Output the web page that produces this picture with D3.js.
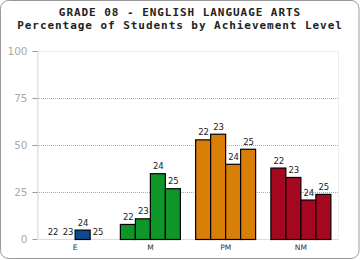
<!DOCTYPE html>
<html><head><meta charset="utf-8">
<script src="https://cdn.jsdelivr.net/npm/d3@7"></script>
<style>body{margin:0;background:#fff}svg{display:block}</style>
</head><body>
<script>
const categories = ["E", "M", "PM", "NM"];
const years = ["22", "23", "24", "25"];
const values = {
  E:  [0, 0, 5, 0],
  M:  [8, 11, 35, 27],
  PM: [53, 56, 40, 48],
  NM: [38, 33, 21, 24]
};
const colors = ["#0f4a90", "#0f9629", "#d97f08", "#a50820"];
const yTicks = [0, 25, 50, 75, 100];
const titleLines = ["GRADE 08 - ENGLISH LANGUAGE ARTS", "Percentage of Students by Achievement Level"];

(function () {
const W = 360, H = 260;
const svg = d3.select("body").append("svg").attr("width", W).attr("height", H);
svg.append("rect").attr("x", 0.5).attr("y", 0.5).attr("width", W - 1.5).attr("height", H - 2)
  .attr("rx", 8).attr("fill", "#fff").attr("stroke", "#9a9a9a").attr("stroke-width", 1);

svg.selectAll("text.title").data(titleLines).enter().append("text")
  .attr("x", 180).attr("y", (d, i) => 16 + i * 13)
  .attr("text-anchor", "middle")
  .attr("font-family", "DejaVu Sans Mono").attr("font-weight", "bold").attr("font-size", "11px")
  .attr("letter-spacing", "0.95px")
  .attr("fill", "#222").text(d => d);

const pl = 37, pr = 338, pt = 51, pb = 239;
const x = d3.scaleBand().domain(categories).range([pl, pr]).paddingInner(0).paddingOuter(0);
const y = d3.scaleLinear().domain([0, 100]).range([pb, pt]);

svg.append("rect").attr("x", pl + 0.5).attr("y", pt + 0.5).attr("width", pr - pl).attr("height", pb - pt)
  .attr("fill", "none").attr("stroke", "#eeeeee");

svg.selectAll("line.grid").data(yTicks.filter(t => t > 0 && t < 100)).enter().append("line")
  .attr("x1", pl).attr("x2", pr).attr("y1", d => Math.round(y(d)) + 0.5).attr("y2", d => Math.round(y(d)) + 0.5)
  .attr("stroke", "#aaa").attr("stroke-dasharray", "1,1");

const yAxis = svg.append("g").attr("transform", `translate(${pl + 0.5},0)`)
  .call(d3.axisLeft(y).tickValues(yTicks).tickSize(5).tickPadding(5));
yAxis.select(".domain").attr("stroke", "#ddd");
yAxis.selectAll(".tick line").attr("stroke", "#999");
yAxis.selectAll(".tick text").attr("fill", "#aaa").attr("font-family", "DejaVu Sans").attr("font-size", "10.5px");

svg.append("line").attr("x1", pl).attr("x2", pr).attr("y1", pb + 0.5).attr("y2", pb + 0.5).attr("stroke", "#ddd");

const inner = d3.scaleBand().domain(years).range([0, 60]);
const groups = svg.selectAll("g.grp").data(categories).enter().append("g")
  .attr("transform", d => `translate(${x(d) + (x.bandwidth() - 60) / 2},0)`);

groups.each(function(cat, ci) {
  const g = d3.select(this);
  const data = years.map((yr, i) => ({yr, v: values[cat][i]}));
  g.selectAll("rect").data(data.filter(d => d.v > 0)).enter().append("rect")
    .attr("x", d => inner(d.yr) + 0.5).attr("width", inner.bandwidth())
    .attr("y", d => y(d.v) + 0.5).attr("height", d => pb - y(d.v))
    .attr("fill", colors[ci]).attr("stroke", "#000").attr("stroke-width", 1.2);
  g.selectAll("text").data(data).enter().append("text")
    .attr("x", d => inner(d.yr) + inner.bandwidth() / 2 + 1)
    .attr("y", d => y(d.v) - 4)
    .attr("text-anchor", "middle")
    .attr("font-family", "DejaVu Sans").attr("font-size", "8.5px").attr("fill", "#222")
    .text(d => d.yr);
});

svg.selectAll("text.cat").data(categories).enter().append("text")
  .attr("x", d => x(d) + x.bandwidth() / 2 + 0.5).attr("y", 250)
  .attr("text-anchor", "middle").attr("font-family", "DejaVu Sans").attr("font-size", "7.5px").attr("fill", "#333")
  .text(d => d);
})();
</script>
</body></html>
